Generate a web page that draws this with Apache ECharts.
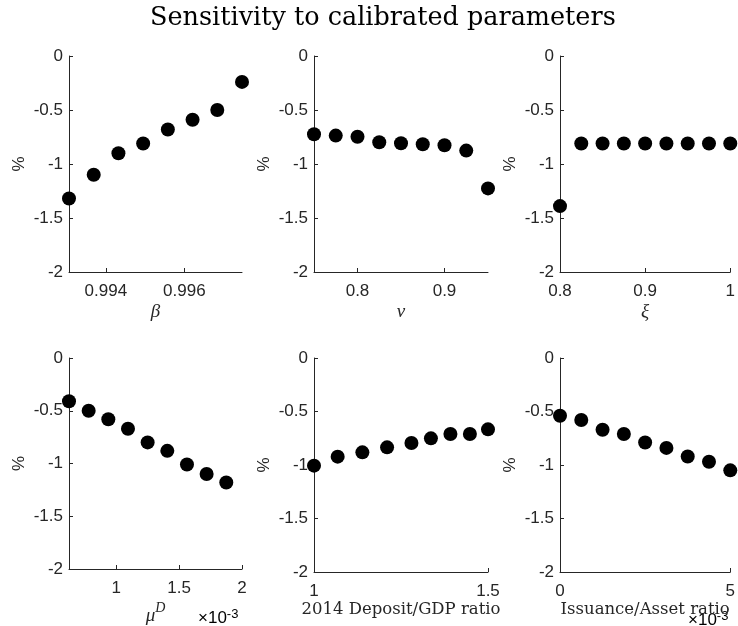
<!DOCTYPE html>
<html>
<head>
<meta charset="utf-8">
<script src="https://cdn.jsdelivr.net/npm/echarts@6/dist/echarts.min.js"></script>
<style>
html,body{margin:0;padding:0;background:#fff;}
#chart{width:738px;height:626px;}
</style>
</head>
<body>
<div id="chart"></div>
<script>
// ---- data ----
const titleText = 'Sensitivity to calibrated parameters';
const yTicks = [0, -0.5, -1, -1.5, -2];

const betaX = [0.99306, 0.99369, 0.99432, 0.99495, 0.99558, 0.99621, 0.99684, 0.99747];
const betaY = [-1.32, -1.10, -0.90, -0.81, -0.68, -0.59, -0.50, -0.24];
const betaTicks = [0.994, 0.996];

const nuX = [0.75, 0.775, 0.8, 0.825, 0.85, 0.875, 0.9, 0.925, 0.95];
const nuY = [-0.725, -0.737, -0.747, -0.799, -0.808, -0.817, -0.826, -0.876, -1.226];
const nuTicks = [0.8, 0.9];

const xiX = [0.8, 0.825, 0.85, 0.875, 0.9, 0.925, 0.95, 0.975, 1.0];
const xiY = [-1.39, -0.81, -0.81, -0.81, -0.81, -0.81, -0.81, -0.81, -0.81];
const xiTicks = [0.8, 0.9, 1];

// mu^D in units of 1e-3
const muX = [0.625, 0.78125, 0.9375, 1.09375, 1.25, 1.40625, 1.5625, 1.71875, 1.875];
const muY = [-0.41, -0.50, -0.58, -0.67, -0.80, -0.88, -1.01, -1.10, -1.18];
const muTicks = [1, 1.5, 2];

const depX = [1.0, 1.068, 1.139, 1.21, 1.28, 1.336, 1.392, 1.448, 1.5];
const depY = [-1.006, -0.922, -0.882, -0.835, -0.794, -0.751, -0.710, -0.710, -0.667];
const depTicks = [1, 1.5];

// Issuance/Asset ratio in units of 1e-3
const issX = [0, 0.625, 1.25, 1.875, 2.5, 3.125, 3.75, 4.375, 5];
const issY = [-0.54, -0.58, -0.67, -0.71, -0.79, -0.84, -0.92, -0.97, -1.05];
const issTicks = [0, 5];

const panels = [
  {x: betaX, y: betaY, ticks: betaTicks, min: 0.99306, max: 0.99747, name: 'β', rich: false},
  {x: nuX, y: nuY, ticks: nuTicks, min: 0.75, max: 0.95, name: 'ν', rich: false},
  {x: xiX, y: xiY, ticks: xiTicks, min: 0.8, max: 1, name: 'ξ', rich: false},
  {x: muX, y: muY, ticks: muTicks, min: 0.625, max: 2, name: '{it|μ}{sup|D}', rich: true},
  {x: depX, y: depY, ticks: depTicks, min: 1, max: 1.5, name: '2014 Deposit/GDP ratio', rich: false},
  {x: issX, y: issY, ticks: issTicks, min: 0, max: 5, name: 'Issuance/Asset ratio', rich: false}
];

// ---- layout ----
const lefts = [69, 314, 560];
const widths = [173, 174, 172];
const tops = [56, 358];
const heights = [216, 214];
const axisColor = '#262626';
const sans = 'Liberation Sans, Arial, Helvetica, sans-serif';
const serif = 'DejaVu Serif, Liberation Serif, serif';
const serifI = 'Liberation Serif, DejaVu Serif, serif';

const grids = [], xAxes = [], yAxes = [], series = [];
panels.forEach((p, i) => {
  const r = Math.floor(i / 3), c = i % 3;
  grids.push({left: lefts[c], width: widths[c], top: tops[r], height: heights[r], containLabel: false});
  const isItalic = i < 3;
  xAxes.push({
    type: 'value', gridIndex: i, min: p.min, max: p.max,
    splitLine: {show: false},
    axisLine: {show: true, onZero: false, lineStyle: {color: axisColor, width: 1}},
    axisTick: {show: true, inside: true, length: 4, customValues: p.ticks, lineStyle: {color: axisColor}},
    axisLabel: {show: true, customValues: p.ticks, color: axisColor, fontFamily: sans, fontSize: 17, margin: 11,
      formatter: v => String(v)},
    name: p.name,
    nameLocation: 'middle',
    nameGap: r === 0 ? 30 : (i === 3 ? 32 : 29),
    nameTextStyle: p.rich ? {
      color: axisColor,
      rich: {
        it: {fontFamily: serifI, fontStyle: 'italic', fontSize: 19, color: axisColor, verticalAlign: 'bottom'},
        sup: {fontFamily: serifI, fontStyle: 'italic', fontSize: 14, color: axisColor, verticalAlign: 'top', padding: [0, 0, 10, 0]}
      }
    } : (isItalic ? {
      color: axisColor, fontFamily: serifI, fontSize: 19, fontStyle: 'italic'
    } : {
      color: axisColor, fontFamily: serif, fontSize: 16.5
    })
  });
  yAxes.push({
    type: 'value', gridIndex: i, min: -2, max: 0, interval: 0.5,
    splitLine: {show: false},
    axisLine: {show: true, onZero: false, lineStyle: {color: axisColor, width: 1}},
    axisTick: {show: true, inside: true, length: 4, lineStyle: {color: axisColor}},
    axisLabel: {color: axisColor, fontFamily: sans, fontSize: 17, margin: 6},
    name: '%', nameLocation: 'middle', nameRotate: 90, nameGap: 41,
    nameTextStyle: {color: axisColor, fontFamily: sans, fontSize: 17}
  });
  series.push({
    type: 'scatter', xAxisIndex: i, yAxisIndex: i,
    data: p.x.map((v, k) => [v, p.y[k]]),
    symbol: 'circle', symbolSize: 14, clip: false,
    itemStyle: {color: '#000', opacity: 1}, silent: true
  });
});

const expRich = {
  b: {fontFamily: sans, fontSize: 17, color: axisColor},
  s: {fontFamily: sans, fontSize: 13, color: axisColor, verticalAlign: 'top', padding: [0, 0, 8, 0]}
};

const chart = echarts.init(document.getElementById('chart'), null, {renderer: 'canvas'});
chart.setOption({
  animation: false,
  backgroundColor: '#fff',
  title: {text: titleText, left: 145, top: 0,
    textStyle: {fontFamily: serif, fontWeight: 'normal', fontSize: 25.5, color: '#000'}},
  grid: grids,
  xAxis: xAxes,
  yAxis: yAxes,
  series: series,
  graphic: [
    {type: 'text', left: 198, top: 608, style: {text: '{b|×10}{s|-3}', rich: expRich}},
    {type: 'text', left: 688, top: 610, style: {text: '{b|×10}{s|-3}', rich: expRich}}
  ]
});
</script>
</body>
</html>
